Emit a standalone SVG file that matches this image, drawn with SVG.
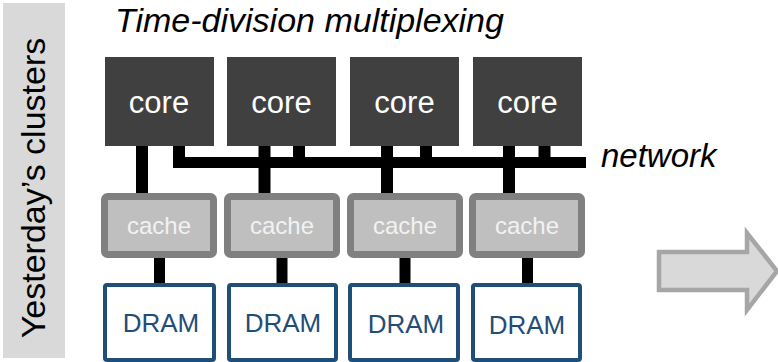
<svg xmlns="http://www.w3.org/2000/svg" width="778" height="362" viewBox="0 0 778 362">
<style>
.core rect{fill:#404040}
.core text{fill:#ffffff;font-family:"Liberation Sans",Arial,sans-serif;font-size:31px;text-anchor:middle}
.cache rect{fill:#bfbfbf;stroke:#808080;stroke-width:7}
.cache text{fill:#f2f2f2;font-family:"Liberation Sans",Arial,sans-serif;font-size:24px;text-anchor:middle}
.dram rect{fill:#ffffff;stroke:#1f4e79;stroke-width:4}
.dram text{fill:#1f4e79;font-family:"Liberation Sans",Arial,sans-serif;font-size:26px;text-anchor:middle}
.wire{stroke:#000000;stroke-width:12;fill:none}
.lbl{font-family:"Liberation Sans",Arial,sans-serif;font-style:italic;fill:#000000}
</style>
<rect x="3" y="3" width="62" height="355" fill="#d9d9d9"/>
<text transform="translate(45,188) rotate(-90)" text-anchor="middle" font-family="Liberation Sans, Arial, sans-serif" font-size="34" fill="#000000">Yesterday’s clusters</text>
<text class="lbl" x="115" y="32" font-size="34">Time-division multiplexing</text>
<text class="lbl" x="601" y="167" font-size="33">network</text>
<g id="connectors">
<line class="wire" x1="142" y1="146" x2="142" y2="196"/>
<line class="wire" x1="264.5" y1="146" x2="264.5" y2="196"/>
<line class="wire" x1="387" y1="146" x2="387" y2="196"/>
<line class="wire" x1="509" y1="146" x2="509" y2="196"/>
<line class="wire" x1="179" y1="146" x2="179" y2="163"/>
<line class="wire" x1="299" y1="146" x2="299" y2="163"/>
<line class="wire" x1="426" y1="146" x2="426" y2="163"/>
<line class="wire" x1="544.5" y1="146" x2="544.5" y2="163"/>
<line class="wire" x1="173" y1="162.5" x2="586" y2="162.5" style="stroke-width:11"/>
<line class="wire" x1="159.5" y1="256" x2="159.5" y2="285" style="stroke-width:11"/>
<line class="wire" x1="282" y1="256" x2="282" y2="285" style="stroke-width:11"/>
<line class="wire" x1="405" y1="256" x2="405" y2="285" style="stroke-width:11"/>
<line class="wire" x1="527.5" y1="256" x2="527.5" y2="285" style="stroke-width:11"/>
</g>
<g id="core1" class="core"><rect x="105" y="57" width="109" height="89"/><text x="159" y="113">core</text></g>
<g id="core2" class="core"><rect x="227" y="57" width="109" height="89"/><text x="281.5" y="113">core</text></g>
<g id="core3" class="core"><rect x="350" y="57" width="109" height="89"/><text x="404.5" y="113">core</text></g>
<g id="core4" class="core"><rect x="473" y="57" width="109" height="89"/><text x="527.5" y="113">core</text></g>
<g id="cache1" class="cache"><rect x="104.5" y="196.5" width="109" height="58" rx="3"/><text x="159" y="234">cache</text></g>
<g id="cache2" class="cache"><rect x="227.5" y="196.5" width="109" height="58" rx="3"/><text x="282" y="234">cache</text></g>
<g id="cache3" class="cache"><rect x="350.5" y="196.5" width="109" height="58" rx="3"/><text x="405" y="234">cache</text></g>
<g id="cache4" class="cache"><rect x="472.5" y="196.5" width="109" height="58" rx="3"/><text x="527" y="234">cache</text></g>
<g id="dram1" class="dram"><rect x="105" y="285" width="109" height="75" rx="2"/><text x="161" y="332">DRAM</text></g>
<g id="dram2" class="dram"><rect x="229" y="285" width="107" height="75" rx="2"/><text x="283" y="332">DRAM</text></g>
<g id="dram3" class="dram"><rect x="350" y="285" width="108" height="75" rx="2"/><text x="406" y="333">DRAM</text></g>
<g id="dram4" class="dram"><rect x="473" y="285" width="107" height="75" rx="2"/><text x="527" y="334">DRAM</text></g>
<g id="arrow"><polygon points="659,252 747,252 747,233 777,271 747,310 747,290 659,290" fill="#d9d9d9" stroke="#a6a6a6" stroke-width="4.5"/></g>
</svg>
